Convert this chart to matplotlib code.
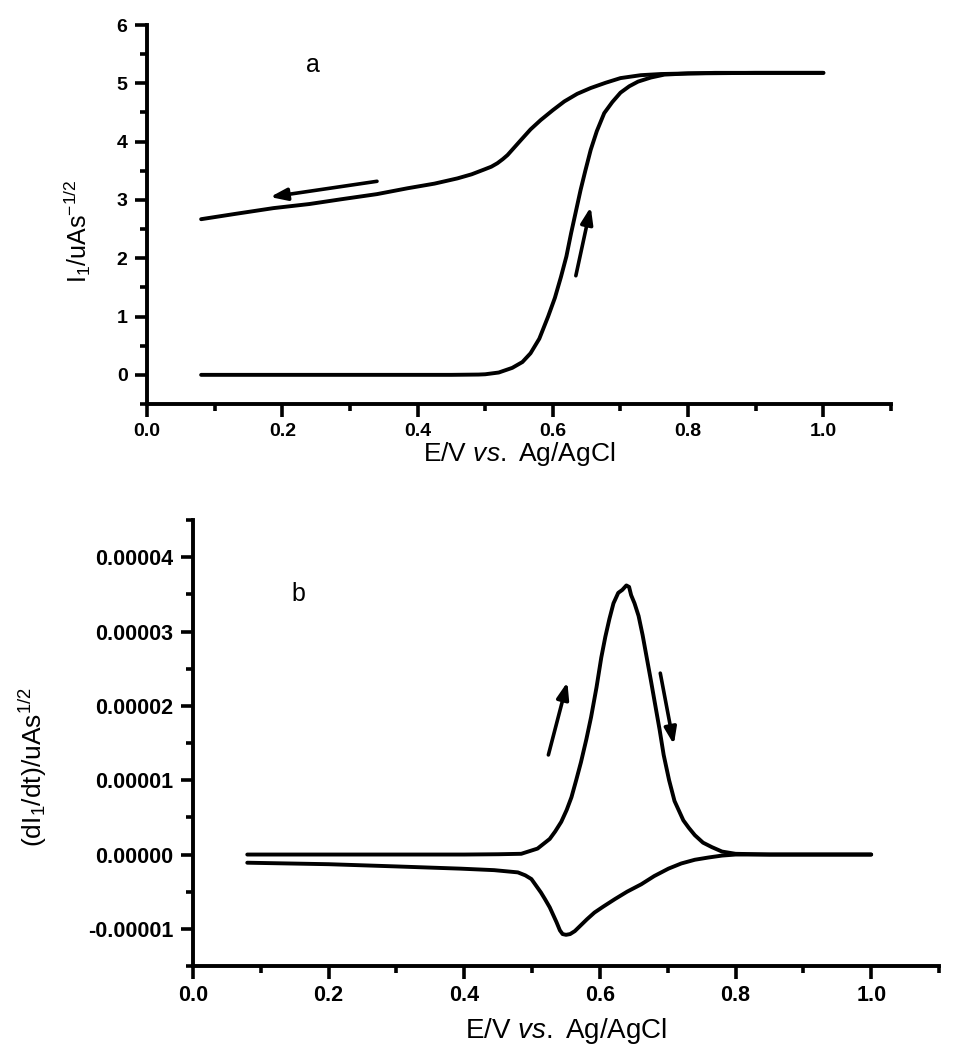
import matplotlib
matplotlib.use('Agg')
import matplotlib.pyplot as plt
import numpy as np
from matplotlib.ticker import MultipleLocator, FormatStrFormatter

plt.rcParams['font.family'] = ['Liberation Sans', 'DejaVu Sans']
plt.rcParams['mathtext.fontset'] = 'custom'
plt.rcParams['mathtext.rm'] = 'Liberation Sans'
plt.rcParams['mathtext.it'] = 'Liberation Sans:italic'
plt.rcParams['mathtext.bf'] = 'Liberation Sans:bold'

# panel a: I1 vs E, forward (anodic) scan
E_fwd_a = [0.08, 0.2, 0.3, 0.4, 0.45, 0.49, 0.50, 0.52, 0.54, 0.555, 0.567, 0.58, 0.593,
           0.603, 0.612, 0.62, 0.627, 0.634, 0.641, 0.648, 0.656, 0.665, 0.676, 0.688,
           0.70, 0.713, 0.726, 0.745, 0.765, 0.8, 0.84, 0.9, 1.0]
I_fwd_a = [0, 0, 0, 0, 0, 0.005, 0.01, 0.04, 0.12, 0.22, 0.37, 0.62, 1.0,
           1.32, 1.68, 2.03, 2.43, 2.8, 3.17, 3.5, 3.86, 4.18, 4.49, 4.68,
           4.84, 4.95, 5.03, 5.1, 5.15, 5.17, 5.18, 5.18, 5.18]
# panel a: reverse scan
E_rev_a = [1.0, 0.9, 0.8, 0.76, 0.73, 0.70, 0.678, 0.656, 0.636, 0.617, 0.6, 0.582, 0.567,
           0.553, 0.543, 0.533, 0.526, 0.518, 0.509, 0.498, 0.48, 0.459, 0.425, 0.385,
           0.34, 0.286, 0.24, 0.187, 0.13, 0.08]
I_rev_a = [5.18, 5.18, 5.17, 5.16, 5.14, 5.09, 5.01, 4.92, 4.82, 4.69, 4.54, 4.37, 4.21,
           4.03, 3.9, 3.77, 3.7, 3.63, 3.57, 3.52, 3.44, 3.37, 3.28, 3.2,
           3.1, 3.01, 2.93, 2.86, 2.76, 2.67]

# panel b: dI1/dt (units of 1e-5), forward scan
E_fwd_b = [0.08, 0.2, 0.3, 0.4, 0.45, 0.484, 0.508, 0.526, 0.534, 0.543, 0.551, 0.558, 0.565,
           0.572, 0.58, 0.587, 0.595, 0.602, 0.608, 0.614, 0.62, 0.627, 0.633, 0.639, 0.643,
           0.646, 0.651, 0.657, 0.663, 0.669, 0.675, 0.681, 0.688, 0.694, 0.702, 0.71, 0.723,
           0.731, 0.74, 0.752, 0.765, 0.78, 0.8, 0.85, 0.9, 1.0]
dI_fwd_b = [0, 0, 0, 0, 0.004, 0.01, 0.08, 0.21, 0.31, 0.44, 0.6, 0.77, 1.0,
            1.24, 1.55, 1.85, 2.25, 2.65, 2.93, 3.17, 3.38, 3.52, 3.56, 3.62, 3.6,
            3.49, 3.38, 3.21, 2.95, 2.65, 2.35, 2.04, 1.68, 1.34, 1.0, 0.72, 0.46,
            0.36, 0.26, 0.16, 0.1, 0.04, 0.01, 0, 0, 0]
# panel b: reverse scan
E_rev_b = [1.0, 0.9, 0.8, 0.78, 0.76, 0.74, 0.72, 0.701, 0.68, 0.661, 0.64, 0.622, 0.605,
           0.592, 0.581, 0.572, 0.563, 0.556, 0.55, 0.545, 0.541, 0.536, 0.531, 0.526,
           0.519, 0.513, 0.506, 0.499, 0.49, 0.479, 0.444, 0.395, 0.3, 0.2, 0.08]
dI_rev_b = [0, 0, 0, -0.014, -0.04, -0.07, -0.12, -0.19, -0.29, -0.4, -0.5, -0.6, -0.7,
            -0.78, -0.87, -0.95, -1.03, -1.07, -1.08, -1.07, -1.02, -0.91, -0.81, -0.71,
            -0.6, -0.51, -0.42, -0.33, -0.28, -0.24, -0.21, -0.19, -0.16, -0.13, -0.11]
scale_b = 1e-5

# scan direction arrows: (tail, head)
arrows_a = [((0.340, 3.32), (0.182, 3.05)), ((0.634, 1.70), (0.656, 2.88))]
arrows_b = [((0.524, 1.34), (0.552, 2.32)), ((0.689, 2.44), (0.709, 1.48))]

xlabel = r'E/V $\mathit{vs.}$ Ag/AgCl'
LW = 2.8


def style_axes(ax, tick_fs):
  for side in ['top', 'right']:
    ax.spines[side].set_visible(False)
  for side in ['left', 'bottom']:
    ax.spines[side].set_linewidth(2.8)
  ax.tick_params(which='major', direction='out', length=9, width=2.6,
                 labelsize=tick_fs, pad=5)
  ax.tick_params(which='minor', direction='out', length=5, width=2.6)
  for lab in ax.get_xticklabels() + ax.get_yticklabels():
    lab.set_fontweight('bold')
  ax.xaxis.set_major_locator(MultipleLocator(0.2))
  ax.xaxis.set_minor_locator(MultipleLocator(0.1))
  ax.xaxis.set_major_formatter(FormatStrFormatter('%.1f'))
  ax.set_xlim(0, 1.1)


def draw_arrows(ax, arrows, yscale=1.0):
  for tail, head in arrows:
    ax.annotate('', xy=(head[0], head[1] * yscale), xytext=(tail[0], tail[1] * yscale),
                arrowprops=dict(arrowstyle='-|>,head_length=0.55,head_width=0.2',
                                mutation_scale=18, lw=2.6, color='black',
                                shrinkA=0, shrinkB=0))


fig = plt.figure(figsize=(9.54, 10.48), dpi=100)

# panel a
ax1 = fig.add_axes([0.1541, 0.6145, 0.7799, 0.3616])
ax1.plot(E_fwd_a, I_fwd_a, color='black', lw=LW, solid_capstyle='round')
ax1.plot(E_rev_a, I_rev_a, color='black', lw=LW, solid_capstyle='round')
ax1.set_ylim(-0.5, 6)
ax1.yaxis.set_major_locator(MultipleLocator(1))
ax1.yaxis.set_minor_locator(MultipleLocator(0.5))
ax1.yaxis.set_major_formatter(FormatStrFormatter('%d'))
style_axes(ax1, 14)
draw_arrows(ax1, arrows_a)
ax1.text(0.245, 5.32, 'a', fontsize=18, ha='center', va='center')
ax1.set_xlabel(xlabel, fontsize=19, ha='center', va='center')
ax1.xaxis.set_label_coords(0.5, -0.132)
ax1.set_ylabel(r'I$_1$/uAs$^{-1/2}$', fontsize=18, ha='center', va='center')
ax1.yaxis.set_label_coords(-0.094, 0.456)

# panel b
ax2 = fig.add_axes([0.2023, 0.0782, 0.782, 0.4256])
ax2.plot(E_fwd_b, np.array(dI_fwd_b) * scale_b, color='black', lw=LW, solid_capstyle='round')
ax2.plot(E_rev_b, np.array(dI_rev_b) * scale_b, color='black', lw=LW, solid_capstyle='round')
ax2.set_ylim(-1.5e-5, 4.5e-5)
ax2.yaxis.set_major_locator(MultipleLocator(1e-5))
ax2.yaxis.set_minor_locator(MultipleLocator(0.5e-5))
ax2.yaxis.set_major_formatter(FormatStrFormatter('%.5f'))
style_axes(ax2, 15.5)
draw_arrows(ax2, arrows_b, scale_b)
ax2.text(0.155, 3.5e-5, 'b', fontsize=18, ha='center', va='center')
ax2.set_xlabel(xlabel, fontsize=20, ha='center', va='center')
ax2.xaxis.set_label_coords(0.5, -0.145)
ax2.set_ylabel(r'(dI$_1$/dt)/uAs$^{1/2}$', fontsize=19, ha='center', va='center')
ax2.yaxis.set_label_coords(-0.2145, 0.446)

fig.savefig('out.png', dpi=100)
